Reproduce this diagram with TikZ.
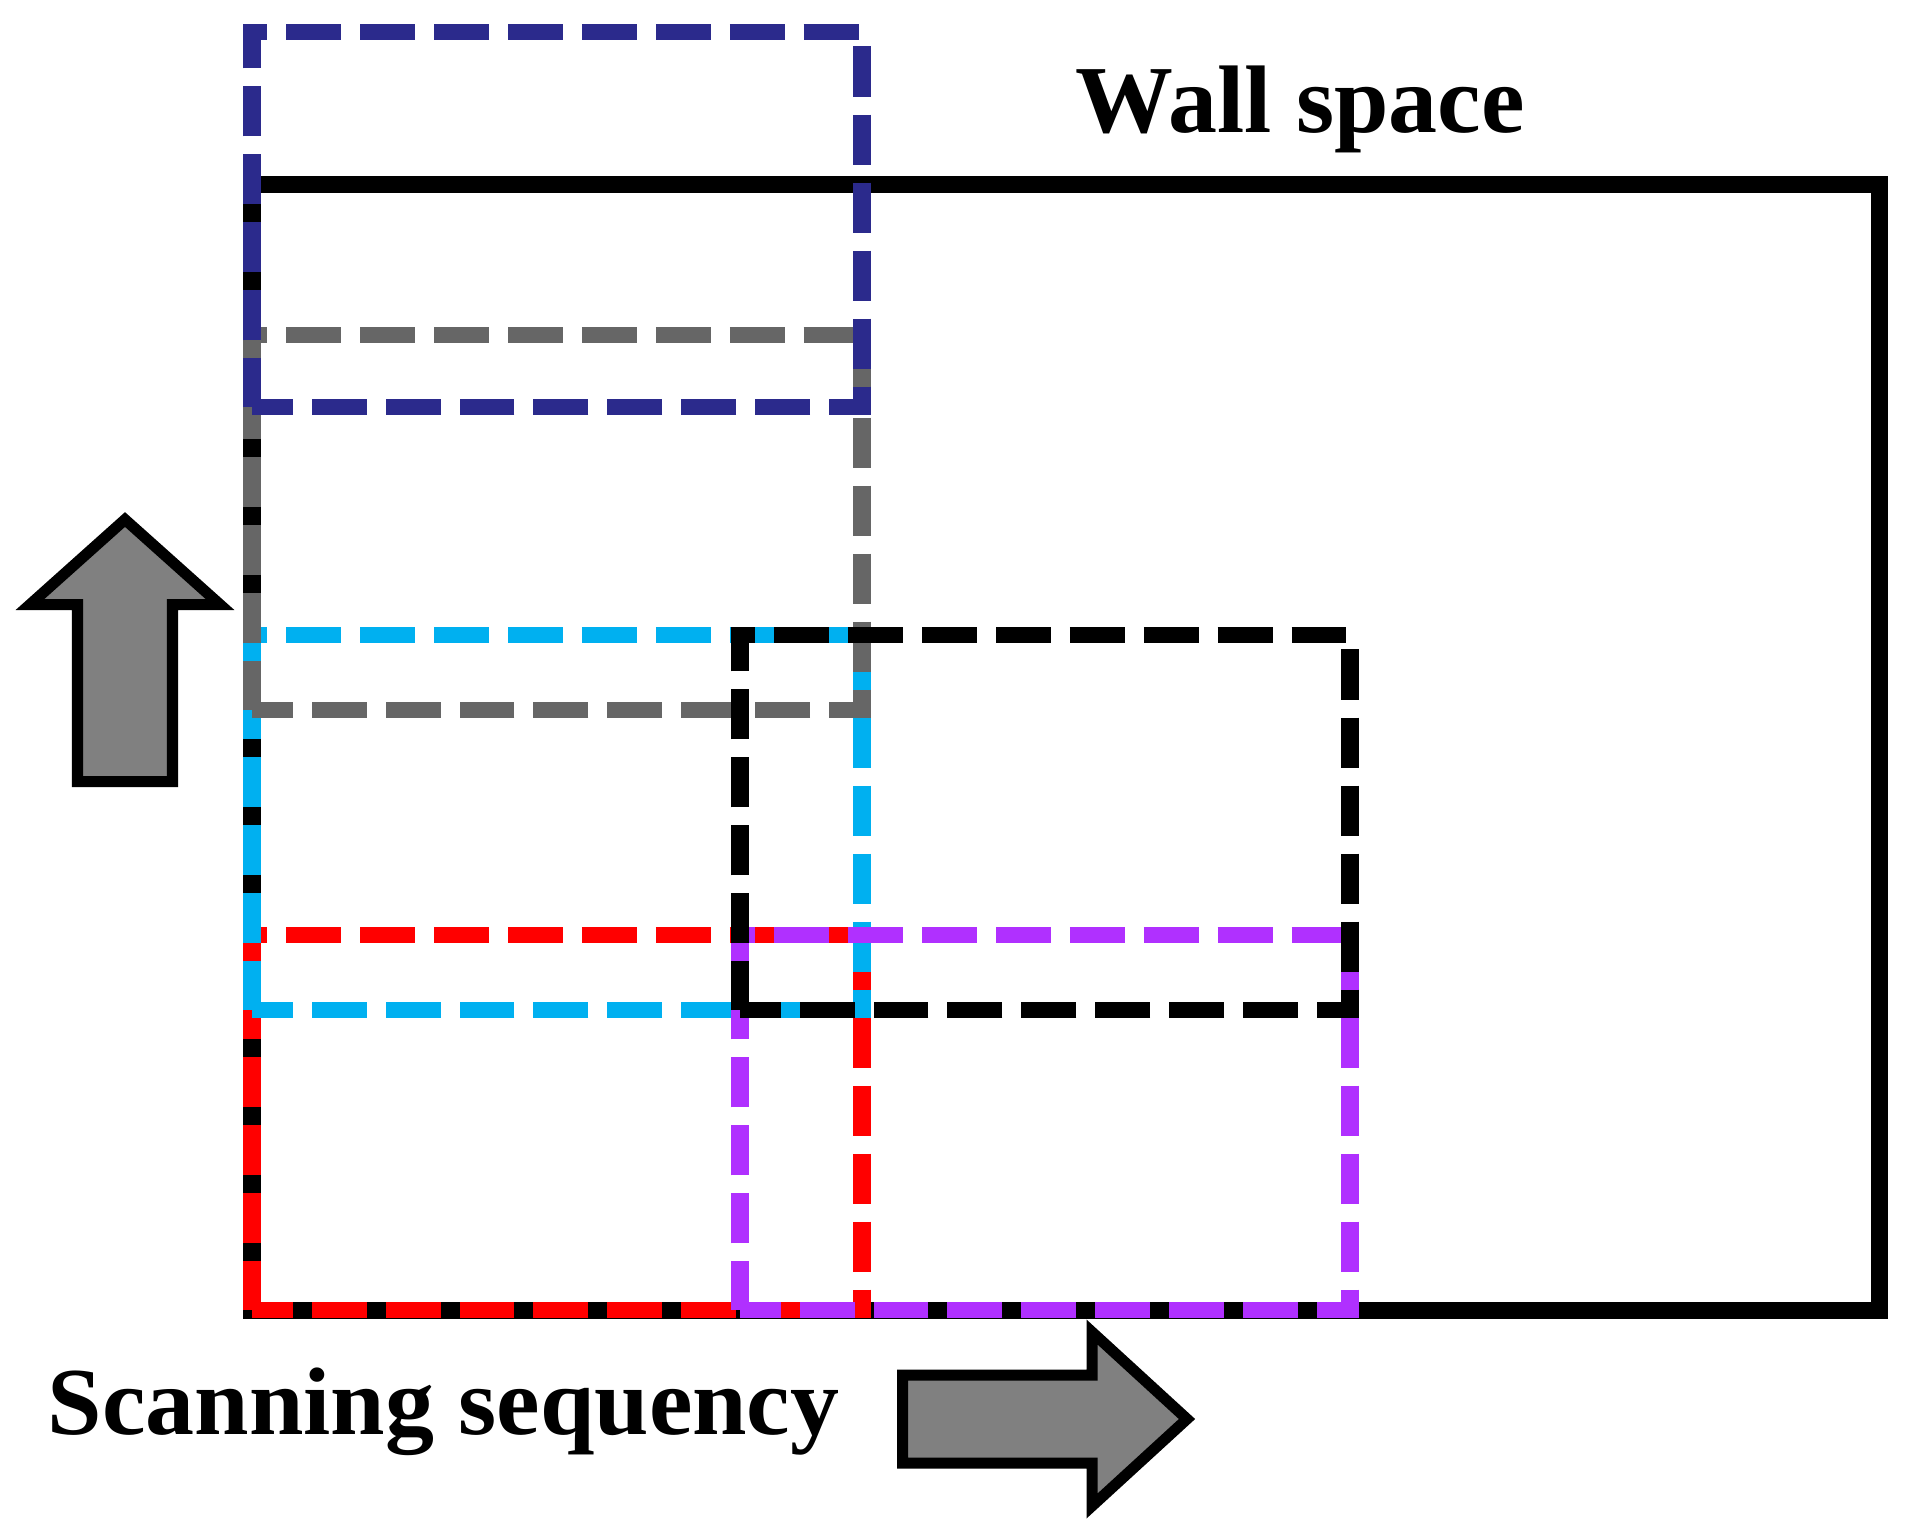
\documentclass[tikz,border=0pt]{standalone}
\usepackage{graphicx}
\usepackage{fontspec}
\setmainfont{Liberation Serif}
\definecolor{navyblue}{RGB}{43,42,140}
\definecolor{boxgray}{RGB}{102,102,102}
\definecolor{boxcyan}{RGB}{0,176,240}
\definecolor{boxred}{RGB}{255,0,0}
\definecolor{boxpurple}{RGB}{176,48,255}
\definecolor{arrowgray}{RGB}{128,128,128}
\tikzset{
  wallbox/.style={draw=black, line width=0.17cm, line join=miter},
  scanbox/.style={line width=0.168cm, dash pattern=on 0.505cm off 0.175cm, dash phase=0.015cm, line join=miter},
  bigarrow/.style={draw=black, fill=arrowgray, line width=0.11cm, line join=miter, miter limit=10},
  label/.style={inner sep=0pt, anchor=base west, font=\fontsize{27.3}{32}\selectfont\bfseries}
}
% scanning window: colour, left x, top y (pixel units); 610 x 375
\newcommand{\scanwin}[3]{%
  \draw[scanbox, draw=#1] (#2,#3+375) -- (#2,#3) -- (#2+610,#3) -- (#2+610,#3+375) -- cycle;}
\begin{document}
\begin{tikzpicture}[x=0.01cm, y=-0.01cm]
\useasboundingbox (0,0) rectangle (1908,1532);
% wall
\draw[wallbox] (252,184) rectangle (1879,1310);
% scanning windows, in scanning order (drawn slightly stretched horizontally, as in the original)
\begin{scope}[x=0.0092081cm, transform canvas={xscale=1.086}]
\scanwin{boxred}{252}{935}
\scanwin{boxcyan}{252}{635}
\scanwin{boxgray}{252}{335}
\scanwin{navyblue}{252}{32}
\scanwin{boxpurple}{740}{935}
\scanwin{black}{740}{635}
\end{scope}
% arrows
\draw[bigarrow] (125,519.5) -- (220,604.5) -- (172.5,604.5) -- (172.5,781.5)
  -- (77.5,781.5) -- (77.5,604.5) -- (30,604.5) -- cycle;
\draw[bigarrow] (902.5,1375) -- (1092,1375) -- (1092,1332) -- (1187,1419)
  -- (1092,1506) -- (1092,1463) -- (902.5,1463) -- cycle;
% texts
\node[label] (wall) at (1075,132) {\scalebox{1.02}[1]{Wall space}};
\node[label] (scan) at (47,1434) {\scalebox{1.02}[1]{Scanning sequency}};
\end{tikzpicture}
\end{document}
